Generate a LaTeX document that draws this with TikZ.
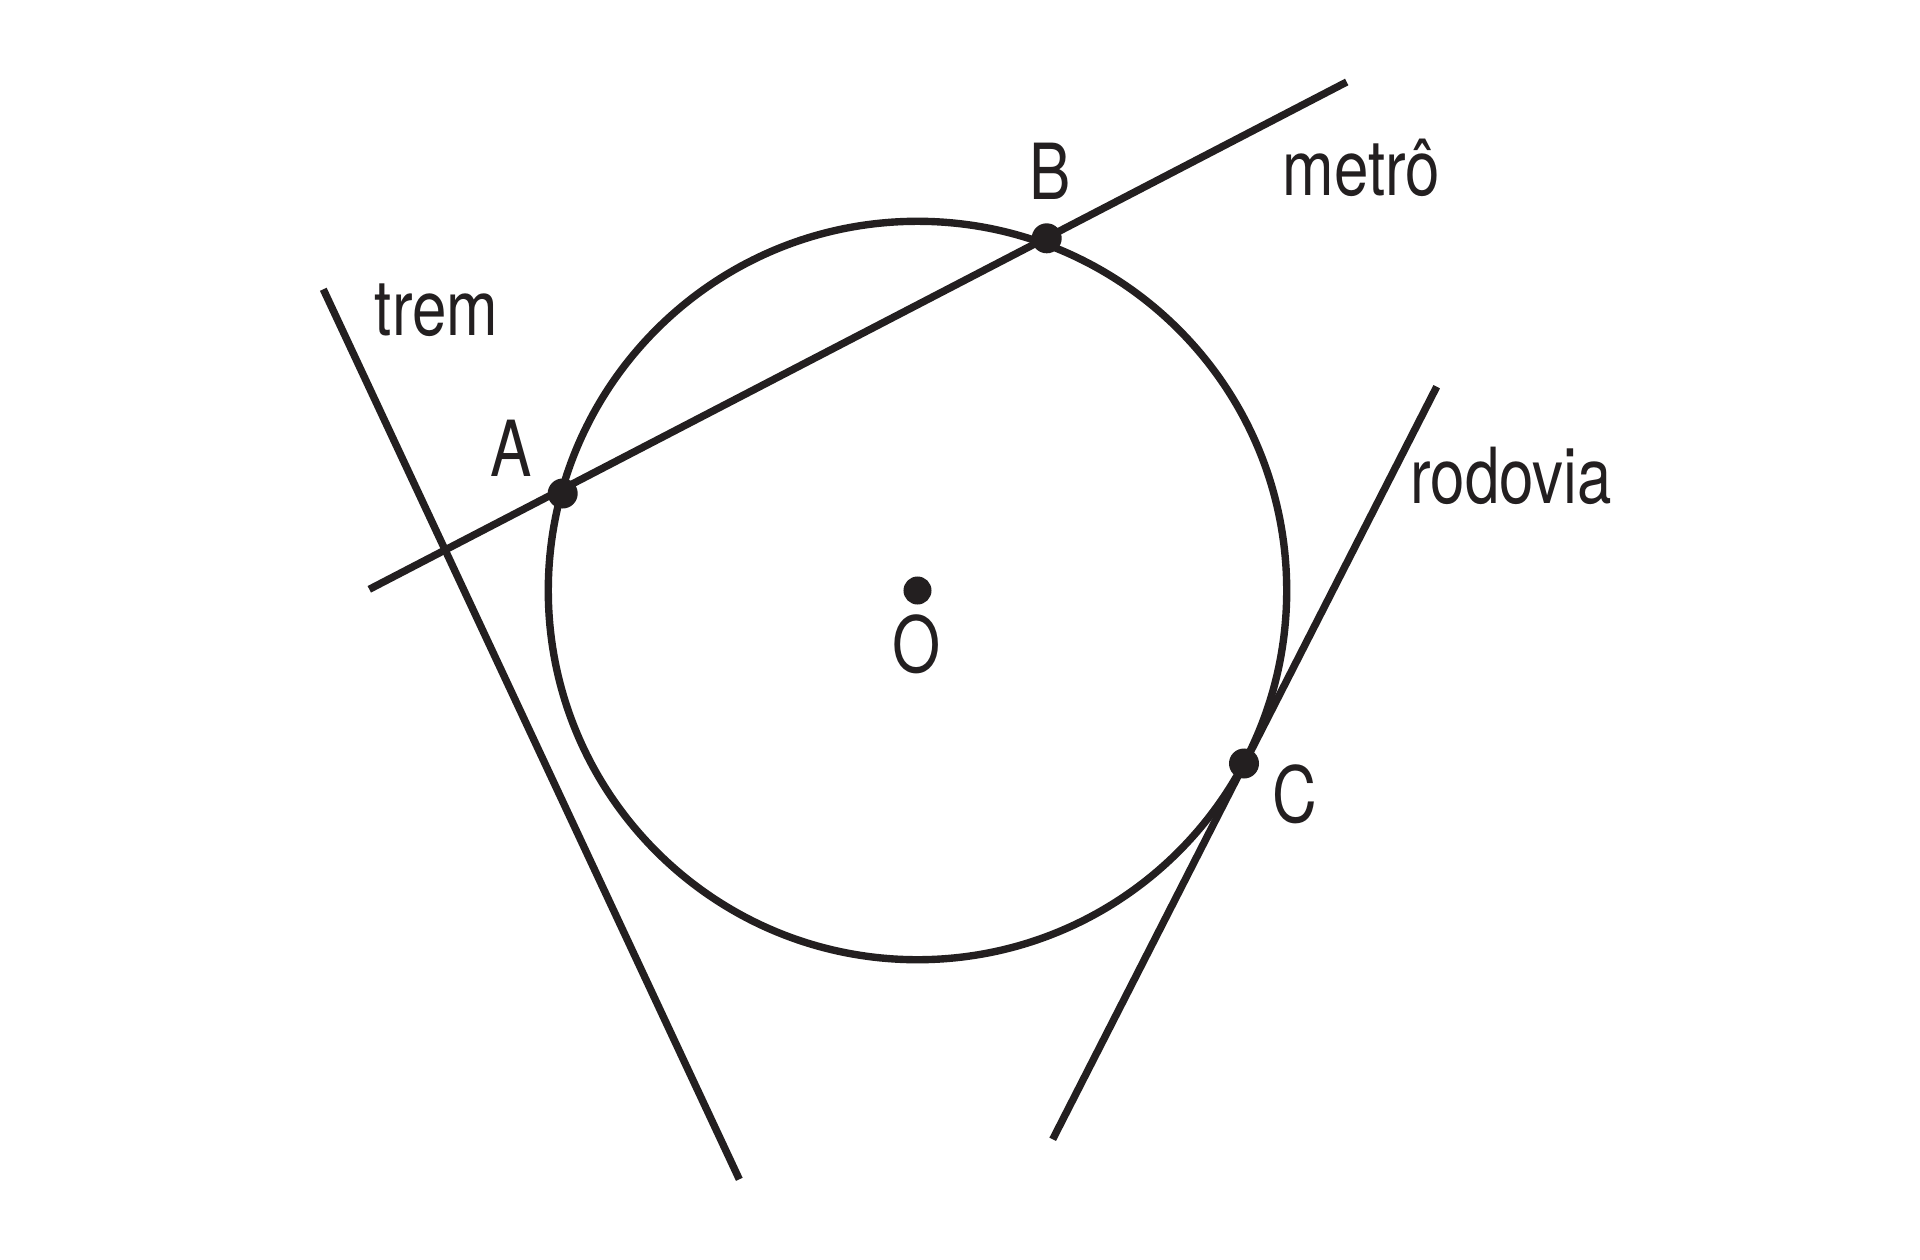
\documentclass[tikz,border=0pt]{standalone}
\usepackage{fontspec}
\setmainfont{TeX Gyre Heros}[FakeStretch=0.8]
\definecolor{ink}{HTML}{231F20}
\begin{document}
\begin{tikzpicture}[x=0.01cm,y=-0.01cm,
  road/.style={draw=ink,line width=2.1pt},
  pt/.style={circle,fill=ink,inner sep=0pt,minimum size=0.3cm},
  lbl/.style={inner sep=0pt,anchor=base,text=ink,font=\fontsize{22pt}{24pt}\selectfont}]
\useasboundingbox (0,0) rectangle (1920,1260);
% circle
\coordinate (O) at (917.5,590.5);
\draw[road] (O) circle[radius=3.69cm];
% line ends
\coordinate (m1) at (369.3,589.3);
\coordinate (m2) at (1346.7,82);
\coordinate (t1) at (323.3,289.3);
\coordinate (t2) at (739.3,1179.3);
\coordinate (r1) at (1436.7,386.7);
\coordinate (r2) at (1052.7,1139.3);
\draw[road] (m1) -- (m2);
\draw[road] (t1) -- (t2);
\draw[road] (r1) -- (r2);
% points
\node[pt] (A) at (562.7,493.5) {};
\node[pt] (B) at (1046.7,238.3) {};
\node[pt] (C) at (1244,763.5) {};
\node[pt,minimum size=0.28cm] (Od) at (O) {};
% labels
\node[lbl] (lA) at (511,476) {A};
\node[lbl] (lB) at (1050,199) {B};
\node[lbl] (lC) at (1294.5,822) {C};
\node[lbl] (lO) at (917,672) {O};
\node[lbl] (ltrem) at (436.5,335) {trem};
\node[lbl] (lmetro) at (1361.5,195) {metrô};
\node[lbl] (lrod) at (1511,503) {rodovia};
\end{tikzpicture}
\end{document}
